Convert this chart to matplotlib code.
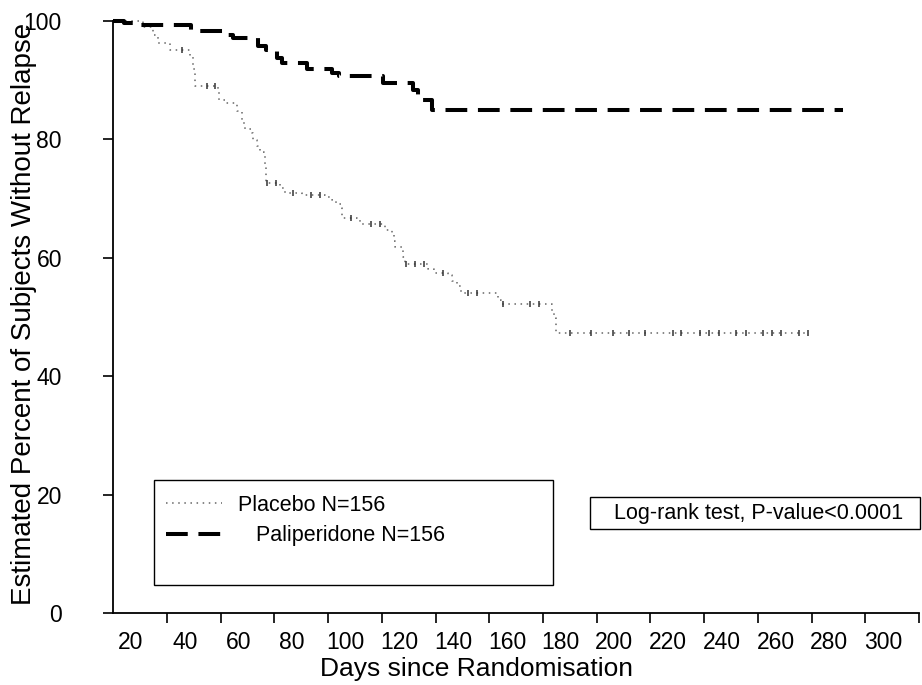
import matplotlib
matplotlib.use('Agg')
import matplotlib.pyplot as plt
import numpy as np
from matplotlib.patches import Rectangle
from matplotlib.transforms import ScaledTranslation

plt.rcParams['font.family'] = ['Liberation Sans', 'DejaVu Sans']

# ---------------- data ----------------
placebo_days = [0, 11, 14.9, 16.7, 21, 28.5, 29.8, 30.5, 39, 39.5, 41.9, 45.9, 48, 49,
                51.5, 52.1, 53.5, 54.6, 56.0, 56.5, 56.8, 57.0, 62.0, 63.9, 70.1, 78.8,
                81.5, 83.1, 84.6, 85.0, 90.8, 92.0, 101.1, 103.6, 104.5, 105.0, 107.9,
                108.5, 117.2, 119.5, 124.7, 126.3, 127.8, 129.4, 143.3, 144.5, 163.2,
                164.0, 165.0, 258.7]
placebo_pct = [100, 99.0, 97.6, 96.3, 95.1, 93.9, 91.8, 89.0, 88.0, 86.6, 86.1, 84.7, 82.8,
               81.7, 81.0, 79.9, 78.8, 77.9, 77.2, 75.8, 74.2, 72.7, 71.7, 71.0, 70.6, 70.3,
               69.8, 69.1, 68.4, 66.8, 66.4, 65.7, 64.7, 64.2, 62.9, 61.8, 60.2, 59.0, 58.1,
               57.5, 57.1, 56.0, 55.2, 54.1, 52.8, 52.2, 50.9, 49.8, 47.3, 47.3]
placebo_censor_days = [25.5, 34.9, 38.0, 57.1, 60.5, 66.8, 73.6, 77.0, 88.5, 95.8, 99.3,
                       108.8, 112.3, 115.6, 122.8, 132.1, 135.5, 145.1, 155.1, 158.5,
                       170, 178, 186, 192, 197.9, 208.5, 211.5, 218.4, 221.8, 225.4, 232.0,
                       235.5, 241.9, 245.4, 248.8, 255.3, 258.7]

pali_days = [0, 4, 10, 29, 41, 44.7, 54, 57, 60.8, 63, 72, 81.3, 84, 100.5, 111.5, 113.5,
             115.3, 118.6, 271.7]
pali_pct = [100, 99.6, 99.3, 98.3, 97.6, 97.1, 95.8, 95.0, 93.7, 92.8, 91.8, 91.2, 90.7,
            89.5, 88.3, 87.3, 86.6, 84.9, 84.9]

x_ticks = list(range(20, 301, 20))
y_ticks = [0, 20, 40, 60, 80, 100]
legend_labels = ['Placebo N=156', '   Paliperidone N=156']
logrank_text = 'Log-rank test, P-value<0.0001'
x_label = 'Days since Randomisation'
y_label = 'Estimated Percent of Subjects Without Relapse'

# ---------------- layout (pixel geometry of reference) ----------------
W, H = 922, 685
L, R, B, T = 113.3, 919.0, 613.3, 20.8
fig = plt.figure(figsize=(W / 100, H / 100), dpi=100)
ax = fig.add_axes([L / W, 1 - B / H, (R - L) / W, (B - T) / H])


def axx(px):
    return (px - L) / (R - L)


def axy(py):
    return (B - py) / (B - T)


ax.set_xlim(0, 300)
ax.set_ylim(0, 100)

# placebo: dotted step curve with censor ticks
pl_line, = ax.step(placebo_days, placebo_pct, where='post', color='#666666', lw=1.1,
                   ls=(0, (1, 3)), clip_on=False)
pdays = np.asarray(placebo_days)
ppct = np.asarray(placebo_pct)
cidx = np.searchsorted(pdays, placebo_censor_days, side='right') - 1
ax.plot(placebo_censor_days, ppct[cidx], ls='none', marker='|', ms=5, mew=1.1,
        color='#333333', clip_on=False)

# paliperidone: thick dashed step curve
pa_line, = ax.step(pali_days, pali_pct, where='post', color='black', lw=2.9,
                   ls=(0, (5.4, 2.65)), clip_on=False)

# axes styling
for s in ['top', 'right']:
    ax.spines[s].set_visible(False)
for s in ['left', 'bottom']:
    ax.spines[s].set_linewidth(1.3)

ax.set_xticks(x_ticks)
ax.set_yticks(y_ticks)
ax.tick_params(axis='both', direction='out', length=7, width=1.2, labelsize=16.5,
               colors='black')
ax.tick_params(axis='y', pad=30)
ax.tick_params(axis='x', pad=6)
shift = ScaledTranslation(-36 / 100, 0, fig.dpi_scale_trans)
for lab in ax.get_xticklabels():
    lab.set_transform(lab.get_transform() + shift)

ax.set_ylabel(y_label, fontsize=20)
ax.yaxis.label.set_verticalalignment('center')
ax.yaxis.set_label_coords(axx(24), axy(313.5))
ax.set_xlabel(x_label, fontsize=19)
ax.xaxis.set_label_coords(axx(477), axy(657))

# legend box
ax.add_patch(Rectangle((axx(154.3), axy(585)), axx(553) - axx(154.3), axy(480) - axy(585),
                       transform=ax.transAxes, fill=False, ec='black', lw=1.0,
                       clip_on=False))
ax.legend([pl_line, pa_line], legend_labels, loc='upper left',
          bbox_to_anchor=(axx(166), axy(495)), frameon=False, fontsize=15.5,
          borderaxespad=0, borderpad=0, handlelength=2.6, handletextpad=0.75,
          labelspacing=0.43)

# log-rank box
ax.add_patch(Rectangle((axx(590), axy(529)), axx(920) - axx(590), axy(497) - axy(529),
                       transform=ax.transAxes, fill=False, ec='black', lw=1.0,
                       clip_on=False))
ax.text(axx(758.8), axy(513.3), logrank_text, transform=ax.transAxes, fontsize=15.5,
        ha='center', va='center')

fig.savefig('out.png', dpi=100)
